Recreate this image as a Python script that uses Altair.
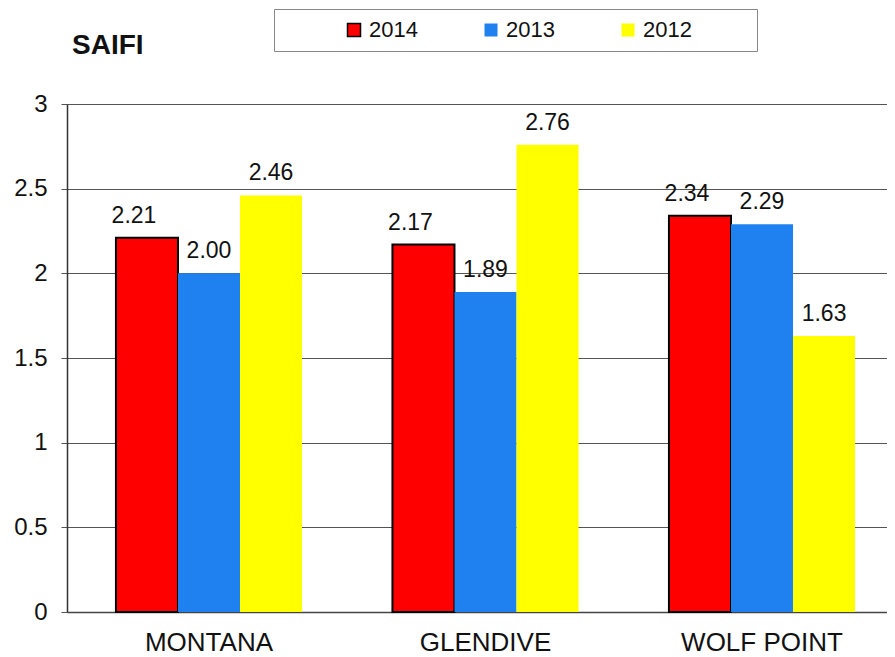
import altair as alt
import pandas as pd

regions = ["MONTANA", "GLENDIVE", "WOLF POINT"]
years = ["2014", "2013", "2012"]
v2014 = [2.21, 2.17, 2.34]
v2013 = [2.00, 1.89, 2.29]
v2012 = [2.46, 2.76, 1.63]
colors = ["#ff0000", "#1f80f0", "#ffff00"]
y_ticks = [0, 0.5, 1, 1.5, 2, 2.5, 3]

rows = []
for yr, vals in zip(years, [v2014, v2013, v2012]):
    for r, v in zip(regions, vals):
        rows.append({"region": r, "year": yr, "value": v})
df = pd.DataFrame(rows)

FONT = "Liberation Sans"
PAD = "\u00a0" * 9 + "\u200b"

base = alt.Chart(df).encode(
    x=alt.X(
        "region:N",
        sort=regions,
        scale=alt.Scale(paddingInner=0.327, paddingOuter=0.1463, align=0.605),
        axis=alt.Axis(
            title=None, labelAngle=0, ticks=False, labelFontSize=26,
            labelPadding=17, domainColor="#444", domainWidth=1.5,
            labelColor="#111", labelFont=FONT, grid=False,
        ),
    ),
    xOffset=alt.XOffset("year:N", sort=years,
                        scale=alt.Scale(domain=years, paddingInner=0, paddingOuter=0)),
    y=alt.Y(
        "value:Q",
        scale=alt.Scale(domain=[0, 3]),
        axis=alt.Axis(
            title=None, values=y_ticks, format="~g", labelFontSize=24,
            labelFont=FONT, labelColor="#111", labelPadding=14, tickSize=6,
            tickColor="#555", domainColor="#333", domainWidth=1.5,
            gridColor="#555", gridWidth=1, minExtent=59, maxExtent=59,
        ),
    ),
)

legend = alt.Legend(
    orient="none", legendX=207, legendY=-95, direction="horizontal",
    strokeColor="#888", fillColor="white", padding=10,
    symbolType="square", symbolSize=169, symbolStrokeWidth=1.5,
    labelFontSize=22, labelFont=FONT, labelColor="#111",
    labelExpr="datum.label + '" + PAD + "'",
    columnPadding=7, title="\u00a0", titleOrient="left",
    titlePadding=59, titleFontSize=1,
)

bars = base.mark_bar(strokeWidth=2).encode(
    color=alt.Color("year:N", scale=alt.Scale(domain=years, range=colors), legend=legend),
    stroke=alt.Stroke("year:N",
                      scale=alt.Scale(domain=years, range=["#000000", "transparent", "transparent"]),
                      legend=legend),
)

text_a = base.transform_filter(alt.datum.year == "2014").mark_text(
    dx=-13, dy=-10, baseline="bottom", fontSize=23, font=FONT, color="#111"
).encode(text=alt.Text("value:Q", format=".2f"))

text_b = base.transform_filter(alt.datum.year != "2014").mark_text(
    dy=-10, baseline="bottom", fontSize=23, font=FONT, color="#111"
).encode(text=alt.Text("value:Q", format=".2f"))

chart = (
    alt.layer(bars, text_a, text_b)
    .properties(
        width=820, height=508,
        padding={"left": 0, "top": 0, "right": 0, "bottom": 0},
        title=alt.TitleParams(
            "SAIFI", anchor="start", frame="group", dx=5, offset=-73,
            fontSize=28, font=FONT, fontWeight="bold", color="#111",
            baseline="alphabetic",
        ),
    )
    .configure_view(fill="#cbced6", stroke=None)
    .configure(background="white")
)

chart.save("out.html", embed_options={"renderer": "svg", "actions": False})
